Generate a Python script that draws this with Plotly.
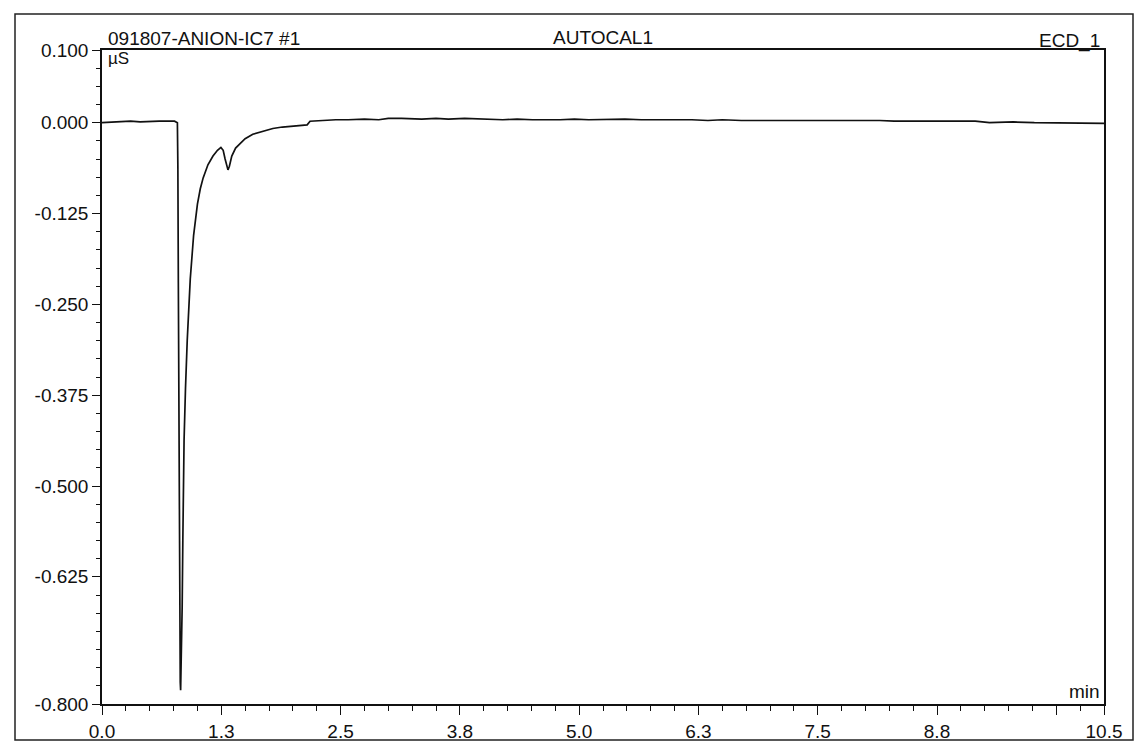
import plotly.graph_objects as go

# Chromatogram trace: retention time (min) and conductivity signal (µS)
time_min = [
    0.00, 0.10, 0.20, 0.30, 0.40, 0.50, 0.60, 0.70, 0.76, 0.790,
    0.795, 0.800, 0.805, 0.810, 0.815, 0.820, 0.824, 0.830, 0.840, 0.847,
    0.860, 0.875, 0.893, 0.925, 0.960, 1.000, 1.030, 1.060, 1.110, 1.163,
    1.210, 1.246, 1.270, 1.290, 1.310, 1.320, 1.335, 1.360, 1.400, 1.450,
    1.500, 1.580, 1.680, 1.790, 1.890, 2.000, 2.100, 2.150, 2.180, 2.300,
    2.450, 2.580, 2.750, 2.900, 3.000, 3.140, 3.350, 3.500, 3.630, 3.800,
    3.980, 4.200, 4.350, 4.510, 4.800, 4.950, 5.100, 5.300, 5.480, 5.650,
    5.800, 6.000, 6.180, 6.350, 6.500, 6.700, 6.870, 7.050, 7.200, 7.500,
    7.750, 8.000, 8.150, 8.300, 8.500, 8.730, 9.000, 9.150, 9.300, 9.550,
    9.770, 9.950, 10.100, 10.300, 10.500,
]
signal_us = [
    0.000, 0.001, 0.001, 0.002, 0.001, 0.002, 0.002, 0.002, 0.002, 0.000,
    -0.060, -0.220, -0.420, -0.600, -0.720, -0.770, -0.781, -0.745, -0.667, -0.575,
    -0.437, -0.365, -0.300, -0.215, -0.155, -0.112, -0.091, -0.076, -0.058, -0.046,
    -0.038, -0.034, -0.038, -0.050, -0.062, -0.065, -0.060, -0.046, -0.035, -0.028,
    -0.022, -0.016, -0.012, -0.008, -0.006, -0.005, -0.004, -0.003, 0.002, 0.003,
    0.004, 0.004, 0.005, 0.004, 0.006, 0.006, 0.005, 0.006, 0.005, 0.006,
    0.005, 0.004, 0.005, 0.004, 0.004, 0.005, 0.004, 0.005, 0.005, 0.004,
    0.004, 0.005, 0.004, 0.003, 0.004, 0.003, 0.003, 0.004, 0.003, 0.003,
    0.004, 0.003, 0.003, 0.002, 0.002, 0.001, 0.001, 0.002, 0.000, 0.001,
    0.000, 0.000, -0.001, -0.001, -0.001,
]

# Axis ticks
x_tick_vals = [0.0, 1.25, 2.5, 3.75, 5.0, 6.25, 7.5, 8.75, 10.0, 10.5]
x_tick_text = ["0.0", "1.3", "2.5", "3.8", "5.0", "6.3", "7.5", "8.8", "", "10.5"]
y_tick_vals = [0.1, 0.0, -0.125, -0.25, -0.375, -0.5, -0.625, -0.8]
y_tick_text = ["0.100", "0.000", "-0.125", "-0.250", "-0.375", "-0.500", "-0.625", "-0.800"]

FONT = "Liberation Sans, Arial, Helvetica, sans-serif"

fig = go.Figure()
fig.add_trace(go.Scatter(
    x=time_min, y=signal_us, mode="lines",
    line=dict(color="#111111", width=1.7),
    hoverinfo="skip", showlegend=False,
))

axis_common = dict(
    showgrid=False, zeroline=False, showline=True, mirror=True,
    linecolor="#111111", linewidth=1.5, ticks="outside",
    tickcolor="#111111", tickwidth=1.3,
    tickfont=dict(family=FONT, size=19, color="#111111"),
)

fig.update_xaxes(
    range=[0, 10.5], tickmode="array", tickvals=x_tick_vals, ticktext=x_tick_text,
    ticklen=9,
    minor=dict(tickmode="linear", tick0=0, dtick=0.25, ticks="outside",
               ticklen=5, tickcolor="#111111", tickwidth=1.1),
    **axis_common,
)
fig.update_yaxes(
    range=[-0.8, 0.1], tickmode="array", tickvals=y_tick_vals, ticktext=y_tick_text,
    ticklen=8,
    minor=dict(tickmode="linear", tick0=0, dtick=0.025, ticks="outside",
               ticklen=4, tickcolor="#111111", tickwidth=1.1),
    **axis_common,
)

text_font = dict(family=FONT, size=19, color="#111111")
annotations = [
    dict(text="091807-ANION-IC7 #1", x=0, y=1, xref="paper", yref="paper",
         xanchor="left", yanchor="bottom", xshift=4, yshift=-1, showarrow=False, font=text_font),
    dict(text="AUTOCAL1", x=0.5, y=1, xref="paper", yref="paper",
         xanchor="center", yanchor="bottom", yshift=0, showarrow=False, font=text_font),
    dict(text="ECD_1", x=1, y=1, xref="paper", yref="paper",
         xanchor="right", yanchor="bottom", xshift=-2, yshift=-4, showarrow=False, font=text_font),
    dict(text="µS", x=0, y=1, xref="paper", yref="paper",
         xanchor="left", yanchor="top", xshift=4, yshift=3, showarrow=False,
         font=dict(family=FONT, size=17, color="#111111")),
    dict(text="min", x=1, y=0, xref="paper", yref="paper",
         xanchor="right", yanchor="bottom", xshift=-2, yshift=0, showarrow=False, font=text_font),
]

# Outer border around the whole printout
frame = dict(type="rect", xref="paper", yref="paper",
             x0=(15 - 102) / 1002, x1=(1133 - 102) / 1002,
             y0=-(742 - 706) / 656, y1=1 + (50 - 14) / 656,
             line=dict(color="#222222", width=1.5), fillcolor="rgba(0,0,0,0)", layer="below")

fig.update_layout(
    width=1136, height=754,
    margin=dict(l=102, r=32, t=50, b=48),
    paper_bgcolor="white", plot_bgcolor="white",
    annotations=annotations, shapes=[frame],
    showlegend=False,
)

fig.write_html("out.html")
